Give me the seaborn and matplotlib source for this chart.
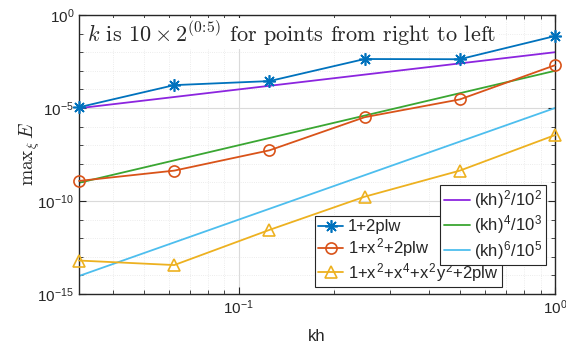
import numpy as np
import pandas as pd
import seaborn as sns
import matplotlib.pyplot as plt
from matplotlib.ticker import FixedLocator, NullFormatter

# kh values (k = 10*2^(0:5), points from right to left)
kh = [1/32, 1/16, 1/8, 1/4, 1/2, 1]

err_plw = [1.1e-5, 1.7e-4, 2.8e-4, 4.3e-3, 4.2e-3, 7.4e-2]
err_x2 = [1.2e-9, 4.3e-9, 5.3e-8, 3.2e-6, 2.9e-5, 2.0e-3]
err_x4 = [6.3e-14, 3.6e-14, 2.8e-12, 1.7e-10, 4.3e-9, 3.5e-7]

series_names = ["1+2plw", "1+x$^{\\mathregular{2}}$+2plw",
                "1+x$^{\\mathregular{2}}$+x$^{\\mathregular{4}}$+x$^{\\mathregular{2}}$y$^{\\mathregular{2}}$+2plw"]

# reference slopes: (kh)^p / 10^q
ref_pow = [2, 4, 6]
ref_div = [2, 3, 5]

sns.set_style("ticks")
plt.rcParams["font.family"] = ["Liberation Sans", "DejaVu Sans"]
plt.rcParams["mathtext.fontset"] = "cm"

fig, ax = plt.subplots(figsize=(5.66, 3.45), dpi=100)
fig.subplots_adjust(left=0.1396, right=0.9806, top=0.9565, bottom=0.1478)
ax.set_xscale("log")
ax.set_yscale("log")

df = pd.DataFrame({"kh": kh, "a": err_plw, "b": err_x2, "c": err_x4})

lw = 1.3
sns.lineplot(data=df, x="kh", y="a", color="#0072BD", lw=lw, marker=(8, 2, 0),
             markersize=9, mec="#0072BD", markeredgewidth=1.2, ax=ax, label=series_names[0])
sns.lineplot(data=df, x="kh", y="b", color="#D95319", lw=lw, marker="o",
             markersize=8, mfc="none", mec="#D95319", markeredgewidth=1.2, ax=ax,
             label=series_names[1])
sns.lineplot(data=df, x="kh", y="c", color="#EDB120", lw=lw, marker="^",
             markersize=9, mfc="none", mec="#EDB120", markeredgewidth=1.2, ax=ax,
             label=series_names[2])
data_lines = list(ax.get_lines())
for ln in data_lines:
    ln.set_clip_on(False)
    ln.set_zorder(3)

ref_colors = ["#8C25DF", "#3AA632", "#4DBEEE"]
ref_lines = []
khs = np.array(kh)
for p, q, c in zip(ref_pow, ref_div, ref_colors):
    ref_df = pd.DataFrame({"kh": khs, "v": khs**p / 10.0**q})
    sns.lineplot(data=ref_df, x="kh", y="v", color=c, lw=lw, ax=ax)
    ref_lines.append(ax.get_lines()[-1])

ax.set_xlim(1/32, 1)
ax.set_ylim(1e-15, 1)

ax.set_xticks([0.1, 1])
ax.set_xticklabels([r"$\mathregular{10^{-1}}$", r"$\mathregular{10^{0}}$"])
ax.xaxis.set_minor_locator(FixedLocator([0.04, 0.05, 0.06, 0.07, 0.08, 0.09,
                                         0.2, 0.3, 0.4, 0.5, 0.6, 0.7, 0.8, 0.9]))
ax.xaxis.set_minor_formatter(NullFormatter())
ax.set_yticks([1e-15, 1e-10, 1e-5, 1])
ax.set_yticklabels([r"$\mathregular{10^{-15}}$", r"$\mathregular{10^{-10}}$",
                    r"$\mathregular{10^{-5}}$", r"$\mathregular{10^{0}}$"])
ax.yaxis.set_minor_locator(FixedLocator([10.0**e for e in range(-14, 0) if e % 5 != 0]))
ax.yaxis.set_minor_formatter(NullFormatter())

ax.tick_params(which="both", direction="in", top=True, right=True, colors="#262626",
               labelsize=11, labelcolor="#262626")
ax.tick_params(which="major", length=5)
ax.tick_params(which="minor", length=3)
for s in ax.spines.values():
    s.set_color("#262626")
    s.set_linewidth(1.0)

ax.grid(True, which="major", color="#DADADA", lw=0.8, zorder=0)
ax.grid(True, which="minor", color="#E6E6E6", lw=0.6, ls=":", zorder=0)
ax.set_axisbelow(True)

ax.set_xlabel("kh", fontsize=12, color="#262626", labelpad=8)
ax.set_ylabel(r"$\mathrm{max}_\xi\, E$", fontsize=14, color="#262626", labelpad=-3)

ax.text(0.017, 0.985,
        r"$k$ is $10\times2^{(0\!:\!5)}$ for points from right to left",
        transform=ax.transAxes, ha="left", va="top", fontsize=16, family="cmr10",
        color="#262626", zorder=5,
        bbox=dict(facecolor="white", edgecolor="none", pad=1.0))

leg1 = ax.legend(handles=data_lines, labels=series_names, loc="lower left",
                 bbox_to_anchor=(0.496, 0.025), fontsize=12, frameon=True, fancybox=False,
                 edgecolor="#262626", framealpha=1, handlelength=1.5, handletextpad=0.25,
                 borderpad=0.2, labelspacing=0.1, borderaxespad=0)
leg1.get_frame().set_linewidth(0.8)
ax.add_artist(leg1)
leg2 = ax.legend(handles=ref_lines,
                 labels=[r"(kh)$^{\mathregular{2}}$/10$^{\mathregular{2}}$",
                         r"(kh)$^{\mathregular{4}}$/10$^{\mathregular{3}}$",
                         r"(kh)$^{\mathregular{6}}$/10$^{\mathregular{5}}$"],
                 loc="upper right", bbox_to_anchor=(0.982, 0.392), fontsize=12,
                 frameon=True, fancybox=False, edgecolor="#262626", framealpha=1,
                 handlelength=1.6, handletextpad=0.25, borderpad=0.2,
                 labelspacing=0.15, borderaxespad=0)
leg2.get_frame().set_linewidth(0.8)

fig.savefig("out.png", dpi=100)
